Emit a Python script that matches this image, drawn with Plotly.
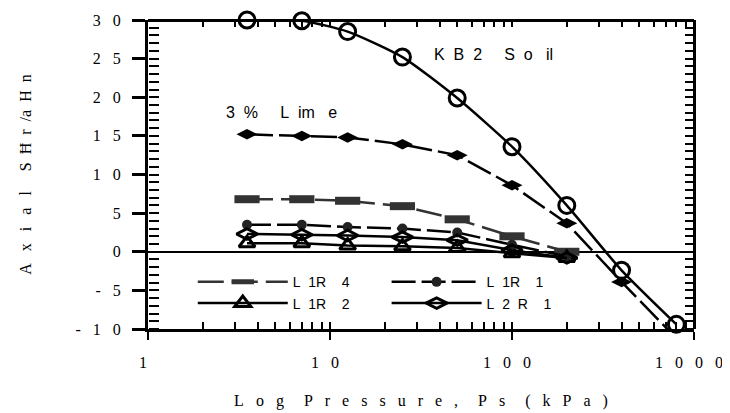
import math
import plotly.graph_objects as go

NB = "\u00a0"


def spaced(text, gap=3, word_gap=5):
    # imitate the wide character spacing of the original chart
    words = [(NB * gap).join(w) for w in text.split(" ")]
    return (NB * word_gap).join(words)


# pressure values (kPa)
pressure = [3.5, 7, 12.5, 25, 50, 100, 200, 400, 800]

# axial strain values
kb2_soil = [30, 29.9, 28.5, 25.2, 19.9, 13.6, 6.0, -2.4, -9.4]
lime_3 = [15.2, 15.0, 14.8, 13.9, 12.5, 8.6, 3.7, -3.9, -11.2]
l1r4 = [6.8, 6.8, 6.6, 5.9, 4.2, 2.0, 0.0]
l1r1 = [3.5, 3.5, 3.2, 3.0, 2.5, 0.9, -0.6]
l1r2 = [1.1, 1.1, 0.8, 0.7, 0.5, -0.2, -0.8]
l2r1 = [2.3, 2.2, 2.1, 1.9, 1.5, 0.2, -0.8]

x_ticks = [1, 10, 100, 1000]
x_ticktext = [spaced(t) for t in ["1", "10", "100", "1000"]]
x_minor = [2, 3, 4, 5, 6, 7, 8, 9, 10, 20, 30, 40, 50, 60, 70, 80, 90,
           100, 200, 300, 400, 500, 600, 700, 800, 900]
y_ticks = [-10, -5, 0, 5, 10, 15, 20, 25, 30]
y_ticktext = [spaced(t) for t in ["-10", "-5", "0", "5", "10", "15", "20", "25", "30"]]
y_minor = list(range(-10, 31))

serif = "Liberation Serif"
sans = "Liberation Sans"

fig = go.Figure()

fig.add_trace(go.Scatter(
    x=pressure, y=kb2_soil, mode="lines+markers", showlegend=False,
    line=dict(color="black", width=2.5, shape="spline", smoothing=0.6),
    marker=dict(symbol="circle-open", size=16, line=dict(width=3, color="black")),
    cliponaxis=False,
))
fig.add_trace(go.Scatter(
    x=pressure, y=lime_3, mode="lines+markers", showlegend=False,
    line=dict(color="black", width=2.5, dash="26px,6px"),
    marker=dict(symbol="diamond-wide", size=15, color="black"),
))
fig.add_trace(go.Scatter(
    x=pressure[:7], y=l1r4, mode="lines+markers",
    name="L" + NB * 2 + "1R" + NB * 4 + "4", legend="legend",
    line=dict(color="#333333", width=2.5, dash="26px,8px"),
    marker=dict(symbol="line-ew-open", size=18, line=dict(width=8, color="#333333")),
))
fig.add_trace(go.Scatter(
    x=pressure[:7], y=l1r2, mode="lines+markers",
    name="L" + NB * 2 + "1R" + NB * 4 + "2", legend="legend",
    line=dict(color="black", width=2.5),
    marker=dict(symbol="triangle-up-open", size=14, line=dict(width=3, color="black")),
))
fig.add_trace(go.Scatter(
    x=pressure[:7], y=l1r1, mode="lines+markers",
    name="L" + NB * 2 + "1R" + NB * 4 + "1", legend="legend2",
    line=dict(color="black", width=2.5, dash="24px,6px"),
    marker=dict(symbol="circle", size=10, color="#222222"),
))
fig.add_trace(go.Scatter(
    x=pressure[:7], y=l2r1, mode="lines+markers",
    name="L" + NB * 2 + "2" + NB * 2 + "R" + NB * 4 + "1", legend="legend2",
    line=dict(color="black", width=2.5),
    marker=dict(symbol="diamond-wide-open", size=15, line=dict(width=3, color="black")),
))

# helper traces to carry the extra tick axes (top/right frame, inner ticks)
for xa, ya in [("x2", "y2"), ("x3", "y3")]:
    fig.add_trace(go.Scatter(x=[1.5], y=[0], xaxis=xa, yaxis=ya,
                             mode="markers", marker=dict(opacity=0),
                             showlegend=False, hoverinfo="skip"))

legend_style = dict(font=dict(family=sans, size=14, color="black"),
                    bgcolor="rgba(0,0,0,0)", itemwidth=90,
                    xanchor="left", yanchor="top", tracegroupgap=0)

# extra axes sit on the frame edges with their "outside" ticks pointing into the plot
# (x ones are linear over log10 of the pressure, matching the main log axis)
inner_x = dict(type="linear", range=[0, 3], overlaying="x", automargin=False,
               anchor="free", tickmode="array",
               tickvals=[math.log10(v) for v in x_minor], ticks="outside",
               tickwidth=2, tickcolor="black", showticklabels=False,
               showgrid=False, zeroline=False, layer="above traces")
inner_y = dict(range=[-10, 30], overlaying="y", automargin=False,
               anchor="free", tickmode="array", tickvals=y_minor, ticks="outside",
               tickwidth=2, tickcolor="black", showticklabels=False,
               showgrid=False, zeroline=False)

fig.update_layout(
    width=722, height=405,
    margin=dict(l=140, r=36, t=12, b=84),
    paper_bgcolor="white", plot_bgcolor="white",
    font=dict(family=serif, size=16, color="black"),
    legend=dict(x=0.082, y=0.203, **legend_style),
    legend2=dict(x=0.437, y=0.203, **legend_style),
    xaxis=dict(
        type="log", range=[0, 3], automargin=False,
        tickvals=x_ticks, ticktext=x_ticktext,
        ticks="outside", ticklen=8, tickwidth=2, tickcolor="black",
        ticklabelstandoff=9, ticklabelshift=-5,
        minor=dict(tickmode="array", tickvals=x_minor, ticks="inside",
                   ticklen=7, tickwidth=2, tickcolor="black"),
        showline=True, linewidth=3, linecolor="black",
        showgrid=False, zeroline=False,
        title=dict(text=spaced("Log Pressure, Ps (kPa)"),
                   font=dict(family=serif, size=16), standoff=25),
    ),
    yaxis=dict(
        range=[-10, 30], automargin=False,
        tickvals=y_ticks, ticktext=y_ticktext,
        ticks="outside", ticklen=13, tickwidth=3, tickcolor="black",
        ticklabelstandoff=8,
        showline=True, linewidth=3, linecolor="black",
        showgrid=False,
        zeroline=True, zerolinewidth=2, zerolinecolor="black",
        title=dict(text=spaced("Axial S", 3, 5) + NB * 2 + "Ħ" + NB * 2 + "r"
                   + NB * 2 + "/a" + NB * 2 + "H" + NB * 2 + "n",
                   font=dict(family=serif, size=16), standoff=40),
    ),
    xaxis2=dict(inner_x, side="bottom", position=1, ticklen=5,
                showline=True, linewidth=3, linecolor="black"),
    yaxis2=dict(inner_y, side="left", position=1, ticklen=8,
                showline=True, linewidth=3, linecolor="black"),
    xaxis3=dict(inner_x, side="top", position=0, ticklen=7, showline=False),
    yaxis3=dict(inner_y, side="right", position=0, ticklen=10, showline=False),
    annotations=[
        dict(x=0.52, y=0.887, xref="paper", yref="paper",
             text=spaced("KB2 So", 2, 5) + NB * 3 + "il",
             showarrow=False, font=dict(family=sans, size=16),
             xanchor="left", yanchor="middle"),
        dict(x=0.14, y=0.7, xref="paper", yref="paper",
             text=spaced("3% L", 2, 5) + NB * 2 + "im" + NB * 3 + "e",
             showarrow=False, font=dict(family=sans, size=16),
             xanchor="left", yanchor="middle"),
    ],
)

fig.write_html("out.html")
